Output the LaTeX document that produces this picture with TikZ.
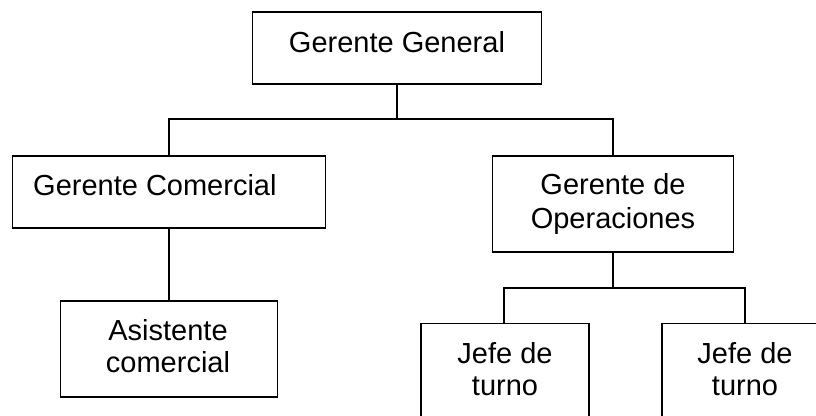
\documentclass[tikz,border=0pt]{standalone}
\usepackage{fontspec}
\setmainfont{Liberation Sans}
\begin{document}
\begin{tikzpicture}[x=1pt,y=-1pt,
  box/.style={draw=black,line width=1.3pt,rectangle,inner sep=0pt},
  lbl/.style={anchor=base,inner sep=0pt,font=\fontsize{29}{33}\selectfont},
  conn/.style={draw=black,line width=1.3pt}]
\useasboundingbox (0,0) rectangle (816,415);
\clip (0,0) rectangle (816,415);
\fill[white] (0,0) rectangle (816,415);
% boxes
\node[box,minimum width=289pt,minimum height=72pt] (gg) at (397,48) {};
\node[box,minimum width=313pt,minimum height=72pt] (gc) at (169,192) {};
\node[box,minimum width=217pt,minimum height=96pt] (ac) at (169,349) {};
\node[box,minimum width=241pt,minimum height=96pt] (go) at (613,204) {};
\node[box,minimum width=168pt,minimum height=140pt,anchor=north] (j1) at (505,323) {};
\node[box,minimum width=168pt,minimum height=140pt,anchor=north] (j2) at (746,323) {};
% texts
\node[lbl] (tgg) at (397,52) {Gerente General};
\node[lbl,anchor=base west] (tgc) at (33,195) {Gerente Comercial};
\node[lbl] (tac1) at (168,340) {Asistente};
\node[lbl] (tac2) at (168,372) {comercial};
\node[lbl] (tgo1) at (613,194) {Gerente de};
\node[lbl] (tgo2) at (613,228) {Operaciones};
\node[lbl] (tj1a) at (505,363) {Jefe de};
\node[lbl] (tj1b) at (505,395) {turno};
\node[lbl] (tj2a) at (745,363) {Jefe de};
\node[lbl] (tj2b) at (745,395) {turno};
% connectors
\coordinate (b1) at (397,119);
\coordinate (b2) at (613,288);
\draw[conn] (gg.south) -- (b1);
\draw[conn] (b1) -| (gc.north);
\draw[conn] (b1) -| (go.north);
\draw[conn] (gc.south) -- (ac.north);
\draw[conn] (go.south) -- (b2);
\draw[conn] (b2) -| ([xshift=-1pt]j1.north);
\draw[conn] (b2) -| ([xshift=-1pt]j2.north);
\end{tikzpicture}
\end{document}
